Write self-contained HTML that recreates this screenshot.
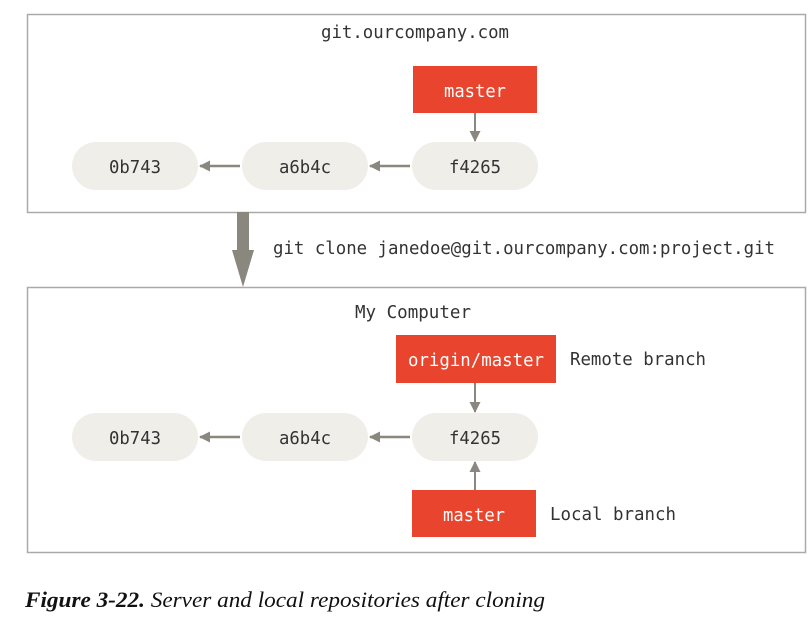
<!DOCTYPE html>
<html><head><style>
body{margin:0;background:#fff;width:811px;height:619px;overflow:hidden}
</style></head><body>
<svg width="811" height="619" xmlns="http://www.w3.org/2000/svg" font-family="'DejaVu Sans Mono','Liberation Mono',monospace" font-size="18">
<defs><marker id="a" markerWidth="11" markerHeight="11" refX="10" refY="5.5" orient="auto" markerUnits="userSpaceOnUse"><path d="M0,0L11,5.5L0,11z" fill="#8a877f"/></marker></defs>
<rect x="27.5" y="14.5" width="778" height="198" fill="#fff" stroke="#aaa" stroke-width="1.5"/>
<text x="415" y="38" text-anchor="middle" fill="#333" textLength="188" lengthAdjust="spacingAndGlyphs">git.ourcompany.com</text>
<rect x="413" y="66" width="124" height="47" fill="#e8442e"/>
<text x="475" y="97" text-anchor="middle" fill="#fff" textLength="62" lengthAdjust="spacingAndGlyphs">master</text>
<line x1="475" y1="113" x2="475" y2="141" stroke="#8a877f" stroke-width="2" marker-end="url(#a)"/>
<g fill="#efeee9"><rect x="72" y="142" width="126" height="48" rx="24"/><rect x="242" y="142" width="126" height="48" rx="24"/><rect x="412" y="142" width="126" height="48" rx="24"/></g>
<g text-anchor="middle" fill="#333"><text x="135" y="173" textLength="52" lengthAdjust="spacingAndGlyphs">0b743</text><text x="305" y="173" textLength="52" lengthAdjust="spacingAndGlyphs">a6b4c</text><text x="475" y="173" textLength="52" lengthAdjust="spacingAndGlyphs">f4265</text></g>
<line x1="240" y1="166" x2="200" y2="166" stroke="#8a877f" stroke-width="2.5" marker-end="url(#a)"/>
<line x1="410" y1="166" x2="370" y2="166" stroke="#8a877f" stroke-width="2.5" marker-end="url(#a)"/>
<rect x="237" y="212" width="12" height="40" fill="#8a877f"/>
<path d="M232,250L254,250L243,287z" fill="#8a877f"/>
<text x="273" y="254" fill="#333" textLength="502" lengthAdjust="spacingAndGlyphs">git clone janedoe@git.ourcompany.com:project.git</text>
<rect x="27.5" y="287.5" width="778" height="265" fill="#fff" stroke="#aaa" stroke-width="1.5"/>
<text x="413" y="318" text-anchor="middle" fill="#333" textLength="116" lengthAdjust="spacingAndGlyphs">My Computer</text>
<rect x="396" y="335" width="160" height="48" fill="#e8442e"/>
<text x="476" y="366" text-anchor="middle" fill="#fff" textLength="136" lengthAdjust="spacingAndGlyphs">origin/master</text>
<text x="570" y="365" fill="#333" textLength="136" lengthAdjust="spacingAndGlyphs">Remote branch</text>
<line x1="475" y1="383" x2="475" y2="412" stroke="#8a877f" stroke-width="2" marker-end="url(#a)"/>
<g fill="#efeee9"><rect x="72" y="413" width="126" height="48" rx="24"/><rect x="242" y="413" width="126" height="48" rx="24"/><rect x="412" y="413" width="126" height="48" rx="24"/></g>
<g text-anchor="middle" fill="#333"><text x="135" y="444" textLength="52" lengthAdjust="spacingAndGlyphs">0b743</text><text x="305" y="444" textLength="52" lengthAdjust="spacingAndGlyphs">a6b4c</text><text x="475" y="444" textLength="52" lengthAdjust="spacingAndGlyphs">f4265</text></g>
<line x1="240" y1="437" x2="200" y2="437" stroke="#8a877f" stroke-width="2.5" marker-end="url(#a)"/>
<line x1="410" y1="437" x2="370" y2="437" stroke="#8a877f" stroke-width="2.5" marker-end="url(#a)"/>
<line x1="475" y1="490" x2="475" y2="462" stroke="#8a877f" stroke-width="2" marker-end="url(#a)"/>
<rect x="412" y="490" width="124" height="47" fill="#e8442e"/>
<text x="474" y="521" text-anchor="middle" fill="#fff" textLength="62" lengthAdjust="spacingAndGlyphs">master</text>
<text x="550" y="520" fill="#333" textLength="126" lengthAdjust="spacingAndGlyphs">Local branch</text>
<text x="25" y="607" font-family="'Liberation Serif',serif" font-size="22" font-style="italic" fill="#111" textLength="520" lengthAdjust="spacingAndGlyphs"><tspan font-weight="bold">Figure 3-22.</tspan>  Server and local repositories after cloning</text>
</svg>
</body></html>
